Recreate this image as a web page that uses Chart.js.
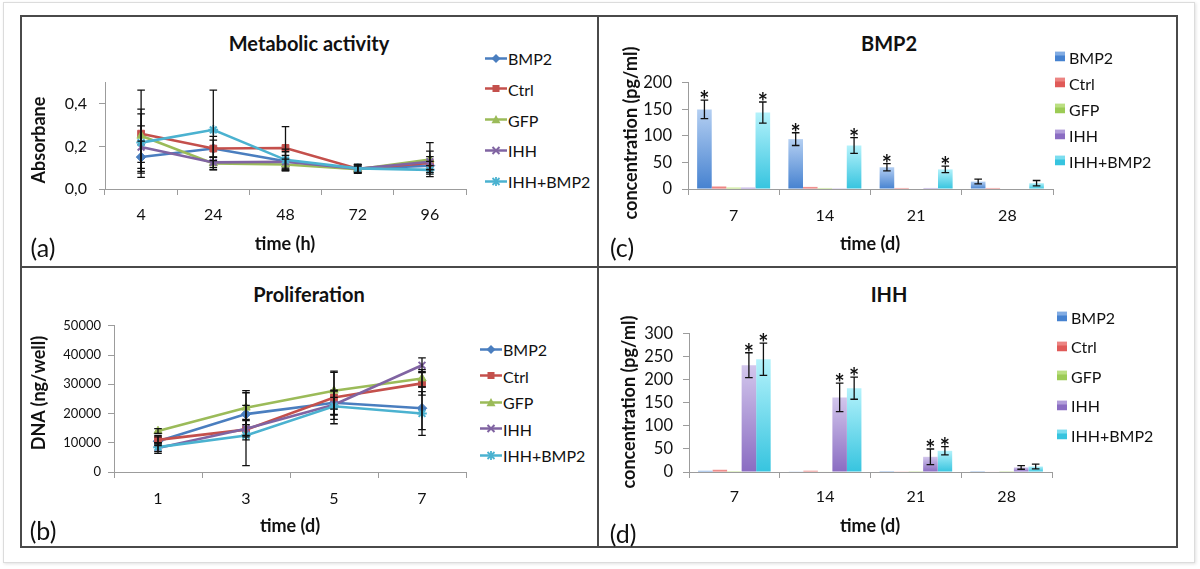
<!DOCTYPE html>
<html>
<head>
<meta charset="utf-8">
<script src="https://cdn.jsdelivr.net/npm/chart.js@4.4.1/dist/chart.umd.min.js"></script>
<style>
  html, body { margin:0; padding:0; background:#fff; }
  body { width:1200px; height:569px; position:relative; overflow:hidden; font-family: Lato, "Open Sans", sans-serif; color:#111; }
  .abs { position:absolute; }
  canvas { position:absolute; }
  .t { position:absolute; transform:translate(-50%,-50%); white-space:nowrap; }
  .title { font-weight:bold; font-size:20px; }
  .axt { font-weight:bold; font-size:18px; }
  .rot { transform:translate(-50%,-50%) rotate(-90deg); }
  .plab { font-size:25px; }
  .leg { position:absolute; display:flex; align-items:center; font-size:16px; transform:translateY(-50%); white-space:nowrap; }
  .leg svg { display:block; margin-right:1px; }
</style>
</head>
<body>
<div class="abs" style="left:3px;top:2px;width:1192px;height:561px;border:1px solid #dcdcdc;box-sizing:border-box;box-shadow:1px 1px 3px rgba(0,0,0,0.12);"></div>
<div class="abs" style="left:20px;top:15px;width:1158px;height:533px;border:2px solid #4a4a4a;box-sizing:border-box;"></div>
<div class="abs" style="left:597px;top:15px;width:2px;height:533px;background:#4a4a4a;"></div>
<div class="abs" style="left:20px;top:266px;width:1158px;height:2px;background:#4a4a4a;"></div>

<canvas id="ca"></canvas>
<canvas id="cb"></canvas>
<canvas id="cc"></canvas>
<canvas id="cd"></canvas>

<div class="t title" style="left:309px;top:43px;">Metabolic activity</div>
<div class="t title" style="left:309px;top:294px;">Proliferation</div>
<div class="t title" style="left:889px;top:43px;">BMP2</div>
<div class="t title" style="left:889px;top:294px;">IHH</div>

<div class="t axt rot" style="left:38px;top:140px;">Absorbane</div>
<div class="t axt rot" style="left:38px;top:393px;">DNA (ng/well)</div>
<div class="t axt rot" style="left:630px;top:133px;">concentration (pg/ml)</div>
<div class="t axt rot" style="left:628px;top:402px;">concentration (pg/ml)</div>

<div class="t axt" style="left:285px;top:243px;">time (h)</div>
<div class="t axt" style="left:290px;top:525px;">time (d)</div>
<div class="t axt" style="left:870px;top:243px;">time (d)</div>
<div class="t axt" style="left:870px;top:525px;">time (d)</div>

<div class="t plab" style="left:43px;top:247px;">(a)</div>
<div class="t plab" style="left:43px;top:530px;">(b)</div>
<div class="t plab" style="left:622px;top:247px;">(c)</div>
<div class="t plab" style="left:623px;top:533px;">(d)</div>

<div id="legs"></div>

<script>
// ---------------- DATA ----------------
const seriesNames = ['BMP2', 'Ctrl', 'GFP', 'IHH', 'IHH+BMP2'];

// (a) Metabolic activity
const metabTimes = ['4', '24', '48', '72', '96'];
const metabBMP2      = [0.150, 0.190, 0.130, 0.095, 0.110];
const metabCtrl      = [0.260, 0.190, 0.193, 0.095, 0.122];
const metabGFP       = [0.250, 0.120, 0.115, 0.093, 0.138];
const metabIHH       = [0.197, 0.125, 0.128, 0.095, 0.128];
const metabIHHBMP2   = [0.218, 0.278, 0.137, 0.097, 0.090];
const metabBMP2Err    = [0.075, 0.040, 0.045, 0.020, 0.020];
const metabCtrlErr    = [0.205, 0.057, 0.100, 0.020, 0.030];
const metabGFPErr     = [0.125, 0.030, 0.025, 0.015, 0.080];
const metabIHHErr     = [0.100, 0.025, 0.030, 0.020, 0.050];
const metabIHHBMP2Err = [0.135, 0.187, 0.050, 0.020, 0.020];
const metabYTicks = [0, 0.2, 0.4];

// (b) Proliferation
const prolDays = ['1', '3', '5', '7'];
const prolBMP2      = [10500, 19800, 23700, 21800];
const prolCtrl      = [11000, 14500, 25500, 30300];
const prolGFP       = [14000, 22000, 27800, 32000];
const prolIHH       = [8200, 14800, 23000, 36500];
const prolIHHBMP2   = [8500, 12500, 22500, 20000];
const prolBMP2Err    = [1500, 7300, 4000, 7300];
const prolCtrlErr    = [1500, 3500, 9000, 4000];
const prolGFPErr     = [800, 5800, 6300, 3000];
const prolIHHErr     = [1800, 2800, 5000, 2500];
const prolIHHBMP2Err = [1500, 10300, 3000, 7500];

// (c) BMP2 concentration
const elisaDays = ['7', '14', '21', '28'];
const bmpBMP2      = [150, 94, 41, 14];
const bmpCtrl      = [5, 4, 2, 2];
const bmpGFP       = [3, 2, 1, 1];
const bmpIHH       = [3, 1.5, 2, 1];
const bmpIHHBMP2   = [144, 82, 37, 11];
const bmpBMP2Err    = [17.5, 12, 7, 4.5];
const bmpIHHBMP2Err = [20, 15, 6, 5];
const bmpBMP2Star    = [true, true, true, false];
const bmpIHHBMP2Star = [true, true, true, false];

// (d) IHH concentration
const ihhBMP2      = [3, 1.5, 2, 0.5];
const ihhCtrl      = [5, 3, 1.5, 1];
const ihhGFP       = [2, 1, 0.5, 0.5];
const ihhIHH       = [232, 162, 33, 10];
const ihhIHHBMP2   = [245, 182, 46, 12];
const ihhIHHErr     = [27, 31, 17, 4];
const ihhIHHBMP2Err = [35, 24, 9, 5];
const ihhIHHStar     = [true, true, true, false];
const ihhIHHBMP2Star = [true, true, true, false];

// ---------------- STYLE ----------------
const lineColors = ['#4a7ebf', '#c4504c', '#9bbb59', '#8064a2', '#4bb2d0'];
const pointStyles = ['rectRot', 'rect', 'triangle', 'crossRot', 'star'];
const barGrads = [
  ['#b4cff2', '#4682d0'],
  ['#f6a8a6', '#e05a58'],
  ['#d6f0a8', '#9ccb55'],
  ['#d2c6ec', '#8a6cc2'],
  ['#b4f2fb', '#36c4df']
];
const AX = '#9c9c9c';
const FONT = 'Lato';
const YW = 60, XH = 45, PT = 12, PR = 8;

// ---------------- PLUGINS ----------------
const errorBarPlugin = {
  id: 'errbars',
  afterDatasetsDraw(chart) {
    const ctx = chart.ctx, ys = chart.scales.y;
    chart.data.datasets.forEach((ds, di) => {
      if (!ds.errors) return;
      const meta = chart.getDatasetMeta(di);
      meta.data.forEach((el, i) => {
        const v = ds.data[i], e = ds.errors[i];
        if (!e) return;
        const x = el.x;
        const yt = ys.getPixelForValue(v + e), yb = ys.getPixelForValue(v - e);
        ctx.save();
        ctx.strokeStyle = '#111';
        ctx.lineWidth = 1.3;
        ctx.beginPath();
        ctx.moveTo(x, yt); ctx.lineTo(x, yb);
        ctx.moveTo(x - 3.8, yt); ctx.lineTo(x + 3.8, yt);
        ctx.moveTo(x - 3.8, yb); ctx.lineTo(x + 3.8, yb);
        ctx.stroke();
        if (ds.stars && ds.stars[i]) {
          ctx.fillStyle = '#111';
          ctx.font = 'bold 24px ' + FONT;
          ctx.textAlign = 'center';
          ctx.textBaseline = 'alphabetic';
          ctx.fillText('*', x, yt + 9);
        }
        ctx.restore();
      });
    });
  }
};

function gradFill(idx) {
  return (c) => {
    const ch = c.chart, ys = ch.scales && ch.scales.y;
    if (c.type !== 'data' || !ys) return barGrads[idx][1];
    const top = ys.getPixelForValue(c.raw), bot = ys.getPixelForValue(0);
    if (!isFinite(top) || !isFinite(bot) || bot - top < 0.5) return barGrads[idx][1];
    const g = ch.ctx.createLinearGradient(0, top, 0, bot);
    g.addColorStop(0, barGrads[idx][0]);
    g.addColorStop(1, barGrads[idx][1]);
    return g;
  };
}

// ---------------- HELPERS ----------------
function placeCanvas(id, box) {
  const cv = document.getElementById(id);
  const w = box.R - box.L + YW + PR, h = box.B - box.T + PT + XH;
  cv.width = w; cv.height = h;
  cv.style.width = w + 'px'; cv.style.height = h + 'px';
  cv.style.left = (box.L - YW) + 'px';
  cv.style.top = (box.T - PT) + 'px';
  return cv;
}

function scalesCfg(box, ymax, ystep, ytickSize, ypad, xpad, ycb, keepTicks) {
  return {
    x: {
      offset: true,
      grid: { offset: true, drawOnChartArea: false, drawTicks: true, tickLength: 6, color: AX, lineWidth: 1 },
      border: { color: AX, width: 1 },
      ticks: { font: { family: FONT, size: 16 }, color: '#111', padding: xpad, maxRotation: 0, autoSkip: false },
      afterFit: (s) => { s.height = XH; }
    },
    y: {
      min: 0, max: ymax,
      grid: { drawOnChartArea: false, drawTicks: true, tickLength: 6, color: AX, lineWidth: 1 },
      border: { color: AX, width: 1 },
      ticks: { stepSize: ystep, font: { family: FONT, size: ytickSize }, color: '#111', padding: ypad, callback: ycb },
      afterBuildTicks: (s) => {
        if (keepTicks) s.ticks = keepTicks.map(v => ({ value: v }));
      },
      afterFit: (s) => { s.width = YW; }
    }
  };
}

function baseOptions(scales) {
  return {
    responsive: false, animation: false, events: [],
    layout: { padding: { top: PT, right: PR, left: 0, bottom: 0 } },
    plugins: { legend: { display: false }, title: { display: false }, tooltip: { enabled: false } },
    scales
  };
}

function lineDatasets(vals, errs) {
  return vals.map((v, i) => ({
    label: seriesNames[i],
    data: v, errors: errs[i],
    borderColor: lineColors[i], backgroundColor: lineColors[i],
    pointBackgroundColor: lineColors[i], pointBorderColor: lineColors[i],
    pointStyle: pointStyles[i], pointRadius: 4.8,
    pointBorderWidth: (i === 3 || i === 4) ? 2 : 1,
    borderWidth: 2.6, tension: 0, fill: false,
    order: 4 - i
  }));
}

function barDatasets(vals, errs, stars) {
  return vals.map((v, i) => ({
    label: seriesNames[i],
    data: v, errors: errs[i], stars: stars[i],
    backgroundColor: gradFill(i), borderWidth: 0,
    categoryPercentage: 0.8, barPercentage: 1.0
  }));
}

// ---------------- CHART (a) ----------------
const boxA = { L: 105, R: 466, T: 73, B: 189 };
new Chart(placeCanvas('ca', boxA), {
  type: 'line',
  data: {
    labels: metabTimes,
    datasets: lineDatasets(
      [metabBMP2, metabCtrl, metabGFP, metabIHH, metabIHHBMP2],
      [metabBMP2Err, metabCtrlErr, metabGFPErr, metabIHHErr, metabIHHBMP2Err])
  },
  options: baseOptions(scalesCfg(boxA, 0.5, 0.2, 16, 12, 10,
    (v) => Number(v).toFixed(1).replace('.', ','), metabYTicks)),
  plugins: [errorBarPlugin]
});

// ---------------- CHART (b) ----------------
const boxB = { L: 114, R: 466, T: 323, B: 472 };
new Chart(placeCanvas('cb', boxB), {
  type: 'line',
  data: {
    labels: prolDays,
    datasets: lineDatasets(
      [prolBMP2, prolCtrl, prolGFP, prolIHH, prolIHHBMP2],
      [prolBMP2Err, prolCtrlErr, prolGFPErr, prolIHHErr, prolIHHBMP2Err])
  },
  options: baseOptions(scalesCfg(boxB, 50000, 10000, 13, 7, 11, (v) => String(v), null)),
  plugins: [errorBarPlugin]
});

// ---------------- CHART (c) ----------------
const boxC = { L: 688, R: 1053, T: 75, B: 189 };
new Chart(placeCanvas('cc', boxC), {
  type: 'bar',
  data: {
    labels: elisaDays,
    datasets: barDatasets(
      [bmpBMP2, bmpCtrl, bmpGFP, bmpIHH, bmpIHHBMP2],
      [bmpBMP2Err, null, null, null, bmpIHHBMP2Err],
      [bmpBMP2Star, null, null, null, bmpIHHBMP2Star])
  },
  options: baseOptions(scalesCfg(boxC, 200, 50, 16.5, 10, 11, (v) => String(v), null)),
  plugins: [errorBarPlugin]
});

// ---------------- CHART (d) ----------------
const boxD = { L: 689, R: 1052, T: 326, B: 472 };
new Chart(placeCanvas('cd', boxD), {
  type: 'bar',
  data: {
    labels: elisaDays,
    datasets: barDatasets(
      [ihhBMP2, ihhCtrl, ihhGFP, ihhIHH, ihhIHHBMP2],
      [null, null, null, ihhIHHErr, ihhIHHBMP2Err],
      [null, null, null, ihhIHHStar, ihhIHHBMP2Star])
  },
  options: baseOptions(scalesCfg(boxD, 300, 50, 16.5, 10, 9, (v) => String(v), null)),
  plugins: [errorBarPlugin]
});

// ---------------- LEGENDS (HTML) ----------------
function markerSVG(i) {
  const c = lineColors[i];
  let m = '';
  if (i === 0) m = `<polygon points="11,1.5 15.5,6 11,10.5 6.5,6" fill="${c}"/>`;
  if (i === 1) m = `<rect x="7.5" y="2.5" width="7" height="7" fill="${c}"/>`;
  if (i === 2) m = `<polygon points="11,1.5 15.5,9.8 6.5,9.8" fill="${c}"/>`;
  if (i === 3) m = `<path d="M7.5,2.5 L14.5,9.5 M14.5,2.5 L7.5,9.5" stroke="${c}" stroke-width="2"/>`;
  if (i === 4) m = `<path d="M7.5,2.5 L14.5,9.5 M14.5,2.5 L7.5,9.5 M11,1.5 L11,10.5" stroke="${c}" stroke-width="1.8"/>`;
  return `<svg width="22" height="12" viewBox="0 0 22 12"><line x1="0" y1="6" x2="22" y2="6" stroke="${c}" stroke-width="2.6"/>${m}</svg>`;
}
function squareSVG(i) {
  return `<svg width="10" height="10" viewBox="0 0 10 10"><rect x="0" y="0" width="10" height="10" fill="${barGrads[i][1]}"/><rect x="0" y="0" width="10" height="4" fill="${barGrads[i][0]}" opacity="0.55"/></svg>`;
}
const legs = document.getElementById('legs');
function addLegend(kind, x, y0, dy, gap) {
  seriesNames.forEach((name, i) => {
    const d = document.createElement('div');
    d.className = 'leg';
    d.style.left = x + 'px';
    d.style.top = (y0 + i * dy) + 'px';
    d.innerHTML = (kind === 'line' ? markerSVG(i) : squareSVG(i)) +
      `<span style="margin-left:${gap}px">${name}</span>`;
    legs.appendChild(d);
  });
}
addLegend('line', 485, 58, 30.8, 0);
addLegend('line', 480, 349, 26.5, 0);
addLegend('bar', 1055, 56.5, 26, 3);
addLegend('bar', 1057, 316.5, 29.5, 3);
</script>
</body>
</html>
